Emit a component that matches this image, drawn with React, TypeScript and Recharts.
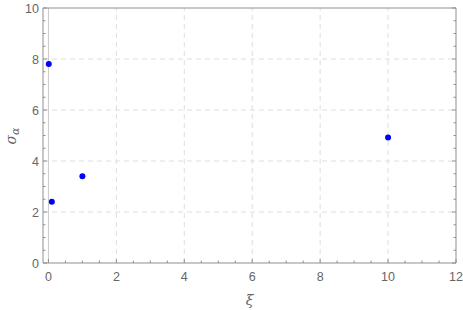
import React from "react";
import {
  ScatterChart,
  Scatter,
  XAxis,
  YAxis,
  ReferenceLine,
  Label,
} from "recharts";

// measured values (xi, sigma_alpha)
const xiValues = [0.01, 0.1, 1, 10];
const sigmaValues = [7.8, 2.4, 3.4, 4.92];

const xMajor = [0, 2, 4, 6, 8, 10, 12];
const xTicks = [0, 0.5, 1, 1.5, 2, 2.5, 3, 3.5, 4, 4.5, 5, 5.5, 6, 6.5, 7, 7.5, 8, 8.5, 9, 9.5, 10, 10.5, 11, 11.5, 12];
const yMajor = [0, 2, 4, 6, 8, 10];
const yTicks = [0, 0.5, 1, 1.5, 2, 2.5, 3, 3.5, 4, 4.5, 5, 5.5, 6, 6.5, 7, 7.5, 8, 8.5, 9, 9.5, 10];
const xGrid = [2, 4, 6, 8, 10];
const yGrid = [2, 4, 6, 8];

const data = xiValues.map((x, i) => ({ x, y: sigmaValues[i] }));

const FRAME = "#8f8f8f";
const LABEL = "#666666";
const FONT = "'Liberation Sans', Arial, sans-serif";

function FrameTick(props: any) {
  const { x, y, payload, side } = props;
  const v = payload.value;
  const major = (side === "bottom" || side === "top" ? xMajor : yMajor).includes(v);
  const len = major ? 4 : 2.5;
  let line;
  let text = null;
  if (side === "bottom") {
    line = <line x1={x} y1={y} x2={x} y2={y - len} stroke={FRAME} />;
    if (major)
      text = (
        <text x={x} y={y + 17.5} textAnchor="middle" fill={LABEL} fontSize={12.5} fontFamily={FONT}>
          {v}
        </text>
      );
  } else if (side === "top") {
    line = <line x1={x} y1={y} x2={x} y2={y + len} stroke={FRAME} />;
  } else if (side === "left") {
    line = <line x1={x} y1={y} x2={x + len} y2={y} stroke={FRAME} />;
    if (major)
      text = (
        <text x={x - 4} y={y + 4.5} textAnchor="end" fill={LABEL} fontSize={12.5} fontFamily={FONT}>
          {v}
        </text>
      );
  } else {
    line = <line x1={x} y1={y} x2={x - len} y2={y} stroke={FRAME} />;
  }
  return (
    <g>
      {line}
      {text}
    </g>
  );
}

function SigmaLabel(props: any) {
  const vb = props.viewBox;
  const cx = vb.x + 16;
  const cy = 136;
  return (
    <text
      x={cx}
      y={cy}
      transform={`rotate(-90, ${cx}, ${cy})`}
      textAnchor="middle"
      fill={LABEL}
      fontFamily="'DejaVu Serif', serif"
      fontStyle="italic"
      fontSize={14}
    >
      σ
      <tspan fontSize={11} dy={3}>
        α
      </tspan>
    </text>
  );
}

const dot = (p: any) => <circle cx={p.cx} cy={p.cy} r={3} fill="#0000ff" />;

export default function App() {
  return (
    <div style={{ position: "absolute", left: 0, top: 0, background: "#fff" }}>
      <ScatterChart width={463} height={310} margin={{ top: 0, right: 0, bottom: 0, left: 0 }}>
        <XAxis
          xAxisId="b"
          type="number"
          dataKey="x"
          orientation="bottom"
          domain={[-0.16, 12]}
          allowDataOverflow
          ticks={xTicks}
          interval={0}
          height={47}
          tickSize={0}
          tickMargin={0}
          tickLine={false}
          axisLine={{ stroke: FRAME }}
          tick={<FrameTick side="bottom" />}
        >
          <Label
            value="ξ"
            position="insideBottom"
            offset={5}
            fill={LABEL}
            fontSize={14}
            fontStyle="italic"
            fontFamily="'DejaVu Serif', serif"
          />
        </XAxis>
        <XAxis
          xAxisId="t"
          type="number"
          orientation="top"
          domain={[-0.16, 12]}
          allowDataOverflow
          ticks={xTicks}
          interval={0}
          height={8}
          tickSize={0}
          tickMargin={0}
          tickLine={false}
          axisLine={{ stroke: FRAME }}
          tick={<FrameTick side="top" />}
        />
        <YAxis
          yAxisId="l"
          type="number"
          dataKey="y"
          orientation="left"
          domain={[0, 10]}
          allowDataOverflow
          ticks={yTicks}
          interval={0}
          width={43}
          tickSize={0}
          tickMargin={0}
          tickLine={false}
          axisLine={{ stroke: FRAME }}
          tick={<FrameTick side="left" />}
          label={{ content: SigmaLabel }}
        />
        <YAxis
          yAxisId="r"
          type="number"
          orientation="right"
          domain={[0, 10]}
          allowDataOverflow
          ticks={yTicks}
          interval={0}
          width={7}
          tickSize={0}
          tickMargin={0}
          tickLine={false}
          axisLine={{ stroke: FRAME }}
          tick={<FrameTick side="right" />}
        />
        {xGrid.map((g) => (
          <ReferenceLine key={"x" + g} x={g} xAxisId="b" yAxisId="l" stroke="#dedede" strokeDasharray="5 4" />
        ))}
        {yGrid.map((g) => (
          <ReferenceLine key={"y" + g} y={g} xAxisId="b" yAxisId="l" stroke="#dedede" strokeDasharray="5 4" />
        ))}
        <ReferenceLine x={0} xAxisId="b" yAxisId="l" stroke="#c8c8c8" />
        <Scatter
          data={data}
          xAxisId="b"
          yAxisId="l"
          shape={dot}
          isAnimationActive={false}
        />
      </ScatterChart>
    </div>
  );
}
